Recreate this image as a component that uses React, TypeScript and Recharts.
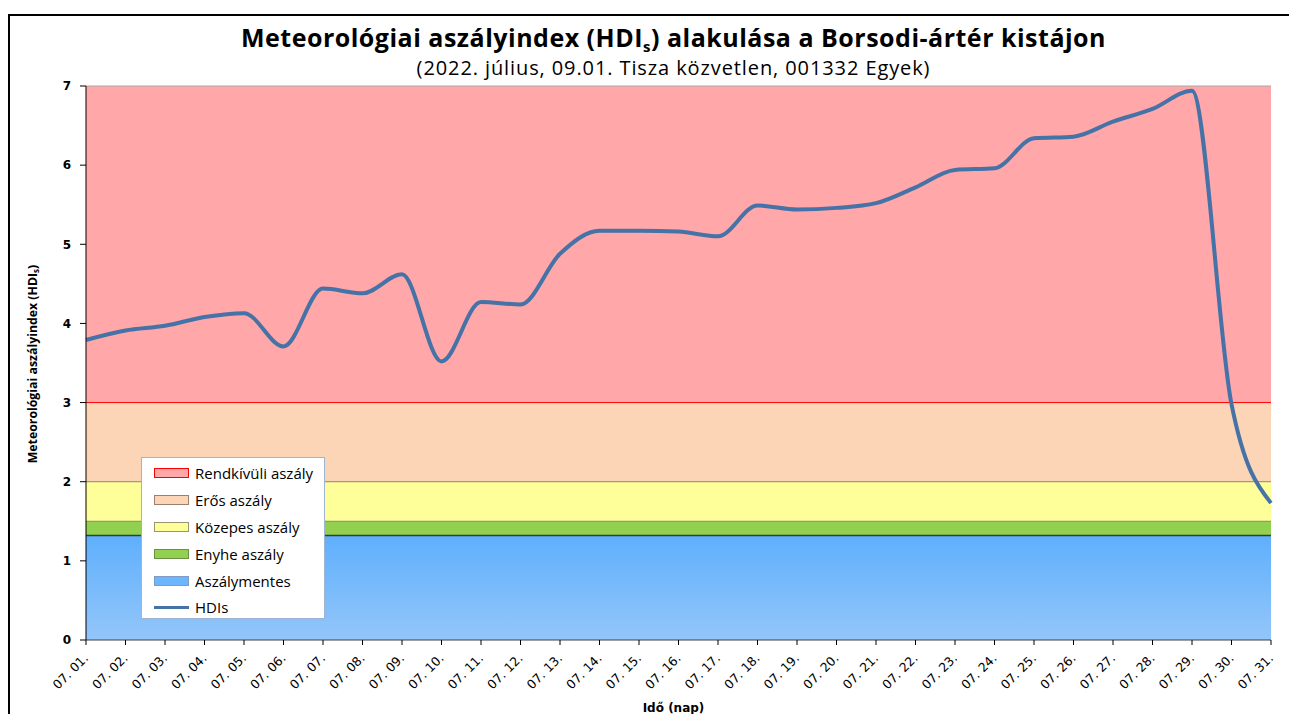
import {
    ComposedChart,
    Area,
    Line,
    XAxis,
    YAxis,
    ReferenceLine,
} from 'recharts';

// napok (x tengely)
const days = [
    '07. 01.', '07. 02.', '07. 03.', '07. 04.', '07. 05.', '07. 06.', '07. 07.', '07. 08.',
    '07. 09.', '07. 10.', '07. 11.', '07. 12.', '07. 13.', '07. 14.', '07. 15.', '07. 16.',
    '07. 17.', '07. 18.', '07. 19.', '07. 20.', '07. 21.', '07. 22.', '07. 23.', '07. 24.',
    '07. 25.', '07. 26.', '07. 27.', '07. 28.', '07. 29.', '07. 30.', '07. 31.',
];

// HDIs napi értékek (leolvasva)
const hdis = [
    3.79, 3.91, 3.97, 4.08, 4.13, 3.71, 4.44, 4.38, 4.62, 3.52, 4.27, 4.24, 4.88, 5.17, 5.17, 5.16,
    5.10, 5.49, 5.44, 5.46, 5.52, 5.72, 5.94, 5.96, 6.34, 6.36, 6.55, 6.71, 6.94, 2.98, 1.73,
];

// kategória-határok (felső értékek), alulról felfelé
const zoneNames = ['Aszálymentes', 'Enyhe aszály', 'Közepes aszály', 'Erős aszály', 'Rendkívüli aszály'];
const zoneTops = [1.32, 1.5, 2, 3, 7];

const yTicks = [0, 1, 2, 3, 4, 5, 6, 7];

const zoneKeys = ['mentes', 'enyhe', 'kozepes', 'eros', 'rendkivuli'];
const zoneFill = ['url(#blueGrad)', '#92D050', '#FFFF99', '#FBD5B5', '#FFA7A9'];
const zoneLine = ['#3a3a3a', '#7d8a66', '#8c8670', '#FF0000', '#a8a8a8'];
const swatchBorder = ['#7f9dc4', '#6f8f45', '#9a9470', '#9a8070', '#FF0000'];

const data = days.map((d, i) => {
    const row: any = { day: d, hdis: hdis[i] };
    zoneKeys.forEach((k, z) => {
        row[k] = zoneTops[z] - (z > 0 ? zoneTops[z - 1] : 0);
    });
    return row;
});

const XTick = ({ x, y, payload }: any) => (
    <text
        x={x + 3}
        y={y + 12}
        transform={`rotate(-45 ${x + 3} ${y + 12})`}
        textAnchor="end"
        fontSize={12.5}
        fontFamily="'DejaVu Sans', sans-serif"
        fill="#000"
    >
        {payload.value}
    </text>
);

const LegendBox = () => {
    // fentről lefelé, ahogy az eredeti jelmagyarázatban
    const order = [4, 3, 2, 1, 0];
    return (
        <div
            style={{
                position: 'absolute',
                left: 133,
                top: 449,
                width: 184,
                height: 162,
                background: '#fff',
                border: '1px solid #9db4d2',
                boxSizing: 'border-box',
                paddingTop: 2,
                fontFamily: "'Open Sans', sans-serif",
                fontSize: 15,
                color: '#000',
                whiteSpace: 'nowrap',
            }}
        >
            {order.map((z) => (
                <div key={z} style={{ display: 'flex', alignItems: 'center', height: 26.8 }}>
                    <div
                        style={{
                            marginLeft: 12,
                            width: 33,
                            height: 8,
                            flexShrink: 0,
                            background: z === 0 ? '#6DB6FD' : zoneFill[z],
                            border: `1px solid ${swatchBorder[z]}`,
                        }}
                    />
                    <span style={{ marginLeft: 6 }}>{zoneNames[z]}</span>
                </div>
            ))}
            <div style={{ display: 'flex', alignItems: 'center', height: 26.8 }}>
                <div style={{ marginLeft: 12, width: 35, height: 3, flexShrink: 0, background: '#4572A7' }} />
                <span style={{ marginLeft: 6 }}>HDIs</span>
            </div>
        </div>
    );
};

export default function App() {
    return (
        <div style={{ position: 'relative', width: 1289, height: 706, overflow: 'hidden', fontFamily: "'Open Sans', sans-serif" }}>
            <div
                style={{
                    position: 'absolute',
                    left: 0,
                    top: 6,
                    width: 1400,
                    height: 800,
                    borderTop: '2px solid #000',
                    borderLeft: '2px solid #000',
                }}
            />
            <div
                style={{
                    position: 'absolute',
                    left: 0,
                    width: 1289,
                    top: 15,
                    height: 28,
                    textAlign: 'center',
                    paddingLeft: 42,
                    boxSizing: 'border-box',
                    fontSize: 25,
                    letterSpacing: 0.5,
                    fontWeight: 'bold',
                    lineHeight: '28px',
                }}
            >
                Meteorológiai aszályindex (HDI<span style={{ fontSize: 15, position: 'relative', top: 5 }}>s</span>) alakulása a Borsodi-ártér kistájon
            </div>
            <div
                style={{
                    position: 'absolute',
                    left: 0,
                    width: 1289,
                    top: 48,
                    height: 24,
                    textAlign: 'center',
                    paddingLeft: 42,
                    boxSizing: 'border-box',
                    fontSize: 20,
                    letterSpacing: 0.9,
                    lineHeight: '24px',
                }}
            >
                (2022. július, 09.01. Tisza közvetlen, 001332 Egyek)
            </div>
            <div style={{ position: 'absolute', left: 24, top: 356, width: 0, height: 0 }}>
                <div
                    style={{
                        position: 'absolute',
                        transform: 'translate(-50%, -50%) rotate(-90deg)',
                        whiteSpace: 'nowrap',
                        fontSize: 12.3,
                        fontWeight: 'bold',
                    }}
                >
                    Meteorológiai aszályindex (HDI<span style={{ fontSize: 8, position: 'relative', top: 2 }}>s</span>)
                </div>
            </div>
            <div
                style={{
                    position: 'absolute',
                    left: 0,
                    width: 1289,
                    top: 693,
                    textAlign: 'center',
                    paddingLeft: 42,
                    boxSizing: 'border-box',
                    fontSize: 12,
                    fontWeight: 'bold',
                    fontFamily: "'DejaVu Sans', sans-serif",
                }}
            >
                Idő (nap)
            </div>

            <div style={{ position: 'absolute', left: 0, top: 0 }}>
                <ComposedChart width={1289} height={706} data={data} margin={{ top: 78, right: 26, bottom: 0, left: 0 }}>
                    <defs>
                        <linearGradient id="blueGrad" x1="0" y1="0" x2="0" y2="1">
                            <stop offset="0%" stopColor="#5FAFFD" />
                            <stop offset="100%" stopColor="#93C6F9" />
                        </linearGradient>
                    </defs>
                    <XAxis
                        dataKey="day"
                        scale="point"
                        height={74}
                        interval={0}
                        tick={<XTick />}
                        tickSize={5}
                        axisLine={{ stroke: '#404040' }}
                        tickLine={{ stroke: '#000' }}
                    />
                    <YAxis
                        yAxisId="l"
                        domain={[0, 7]}
                        ticks={yTicks}
                        width={78}
                        tickSize={6}
                        tickMargin={9}
                        axisLine={{ stroke: '#000' }}
                        tickLine={{ stroke: '#000' }}
                        tick={{ fill: '#000', fontSize: 12, fontWeight: 'bold', fontFamily: "'DejaVu Sans', sans-serif" }}
                    />
                    <YAxis
                        yAxisId="r"
                        orientation="right"
                        domain={[0, 7]}
                        ticks={yTicks}
                        width={0}
                        tick={false}
                        tickSize={5}
                        axisLine={{ stroke: '#8a8a8a' }}
                        tickLine={{ stroke: '#8a8a8a' }}
                    />
                    {zoneKeys.map((k, z) => (
                        <Area
                            key={k}
                            yAxisId="l"
                            dataKey={k}
                            name={zoneNames[z]}
                            stackId="zones"
                            type="linear"
                            fill={zoneFill[z]}
                            fillOpacity={1}
                            stroke="none"
                            isAnimationActive={false}
                        />
                    ))}
                    {zoneTops.map((t, z) => (
                        <ReferenceLine key={t} yAxisId="l" y={t} stroke={zoneLine[z]} strokeWidth={z === 0 ? 1.5 : 1} />
                    ))}
                    <Line
                        yAxisId="l"
                        dataKey="hdis"
                        name="HDIs"
                        type="monotone"
                        stroke="#4572A7"
                        strokeWidth={4}
                        dot={false}
                        activeDot={false}
                        isAnimationActive={false}
                    />
                </ComposedChart>
            </div>
            <LegendBox />
        </div>
    );
}
